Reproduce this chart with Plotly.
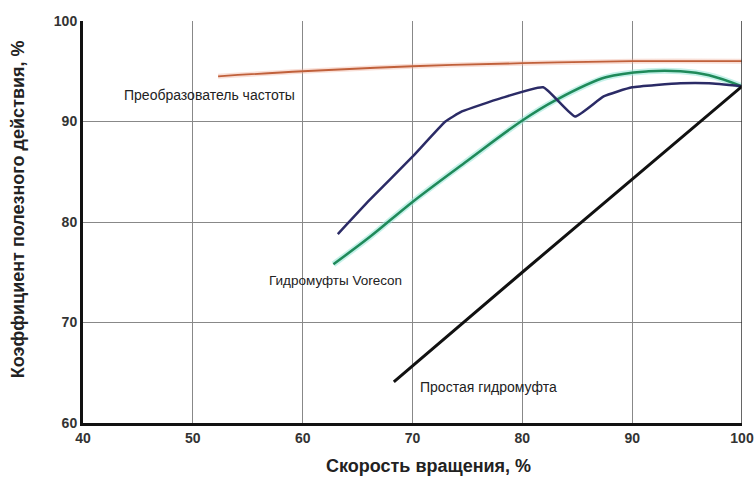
import plotly.graph_objects as go

# Data
freq_x = [52.3, 60, 70, 80, 90, 100]
freq_y = [94.5, 95.0, 95.5, 95.8, 96.0, 96.0]

vorecon_green_x = [62.8, 66.1, 70, 75, 80, 83, 87.6, 91.5, 94.4, 97, 100]
vorecon_green_y = [75.8, 78.5, 82.0, 86.1, 90.1, 92.1, 94.4, 95.0, 95.0, 94.6, 93.5]

vorecon_blue_x = [63.2, 66.1, 70, 73.0, 74.5, 78, 81.9, 84.8, 87.4, 90, 94.4, 97, 100]
vorecon_blue_y = [78.8, 82.2, 86.5, 90.0, 91.0, 92.3, 93.4, 90.5, 92.5, 93.4, 93.8, 93.8, 93.5]

simple_x = [68.3, 80, 100]
simple_y = [64.1, 75.0, 93.5]

x_ticks = [40, 50, 60, 70, 80, 90, 100]
y_ticks = [60, 70, 80, 90, 100]

label_font = dict(family="Liberation Sans, Arial", size=14, color="#222")

fig = go.Figure()
fig.add_trace(go.Scatter(x=freq_x, y=freq_y, mode="lines",
                         line=dict(color="rgba(240,175,155,0.4)", width=5, shape="spline"),
                         hoverinfo="skip", showlegend=False))
fig.add_trace(go.Scatter(x=freq_x, y=freq_y, mode="lines",
                         line=dict(color="#c0603a", width=1.8, shape="spline"), showlegend=False))
fig.add_trace(go.Scatter(x=vorecon_green_x, y=vorecon_green_y, mode="lines",
                         line=dict(color="rgba(150,230,215,0.55)", width=6, shape="spline"),
                         hoverinfo="skip", showlegend=False))
fig.add_trace(go.Scatter(x=vorecon_green_x, y=vorecon_green_y, mode="lines",
                         line=dict(color="#1f8a5a", width=2.5, shape="spline"), showlegend=False))
fig.add_trace(go.Scatter(x=vorecon_blue_x, y=vorecon_blue_y, mode="lines",
                         line=dict(color="#2b2b66", width=2.5, shape="spline", smoothing=0.4), showlegend=False))
fig.add_trace(go.Scatter(x=simple_x, y=simple_y, mode="lines",
                         line=dict(color="#111", width=3), showlegend=False))

fig.add_annotation(x=51.5, y=92.6, text="Преобразователь частоты", showarrow=False, font=label_font, xanchor="center")
fig.add_annotation(x=63.0, y=74.2, text="Гидромуфты Vorecon", showarrow=False,
                   font=dict(label_font, size=13.5), xanchor="center")
fig.add_annotation(x=76.9, y=63.6, text="Простая гидромуфта", showarrow=False, font=label_font, xanchor="center")

title_font = dict(family="Liberation Sans, Arial", size=18, color="#222")
fig.add_annotation(xref="paper", yref="paper", x=0.525, y=-0.107, text="<b>Скорость вращения, %</b>",
                   showarrow=False, font=title_font, xanchor="center", yanchor="middle")
fig.add_annotation(xref="paper", yref="paper", x=-0.0986, y=0.532, text="<b>Коэффициент полезного действия, %</b>",
                   showarrow=False, font=title_font, textangle=-90, xanchor="center", yanchor="middle")

tick_font = dict(family="Liberation Sans, Arial", size=14, color="#333")
fig.update_layout(
    width=755, height=481,
    margin=dict(l=83, r=13, t=21, b=58),
    paper_bgcolor="white", plot_bgcolor="white",
    xaxis=dict(range=[40, 100], tickvals=x_ticks, ticktext=[f"<b>{v}</b>" for v in x_ticks],
               showgrid=True, gridcolor="#888", gridwidth=1, zeroline=False,
               showline=True, linecolor="#111", linewidth=3, mirror=False,
               tickfont=tick_font, ticks="", automargin=False),
    yaxis=dict(range=[60, 100], tickvals=y_ticks, ticktext=[f"<b>{v}</b>" for v in y_ticks],
               showgrid=True, gridcolor="#888", gridwidth=1, zeroline=False,
               showline=True, linecolor="#111", linewidth=3,
               tickfont=tick_font, ticks="", automargin=False),
)
# right border at x=100
fig.add_shape(type="line", xref="x", yref="paper", x0=100, x1=100, y0=0, y1=1, line=dict(color="#333", width=1.5))

fig.write_html("out.html", config={"displayModeBar": False},
               post_script="document.body.style.margin='0';document.body.style.overflow='hidden';")
